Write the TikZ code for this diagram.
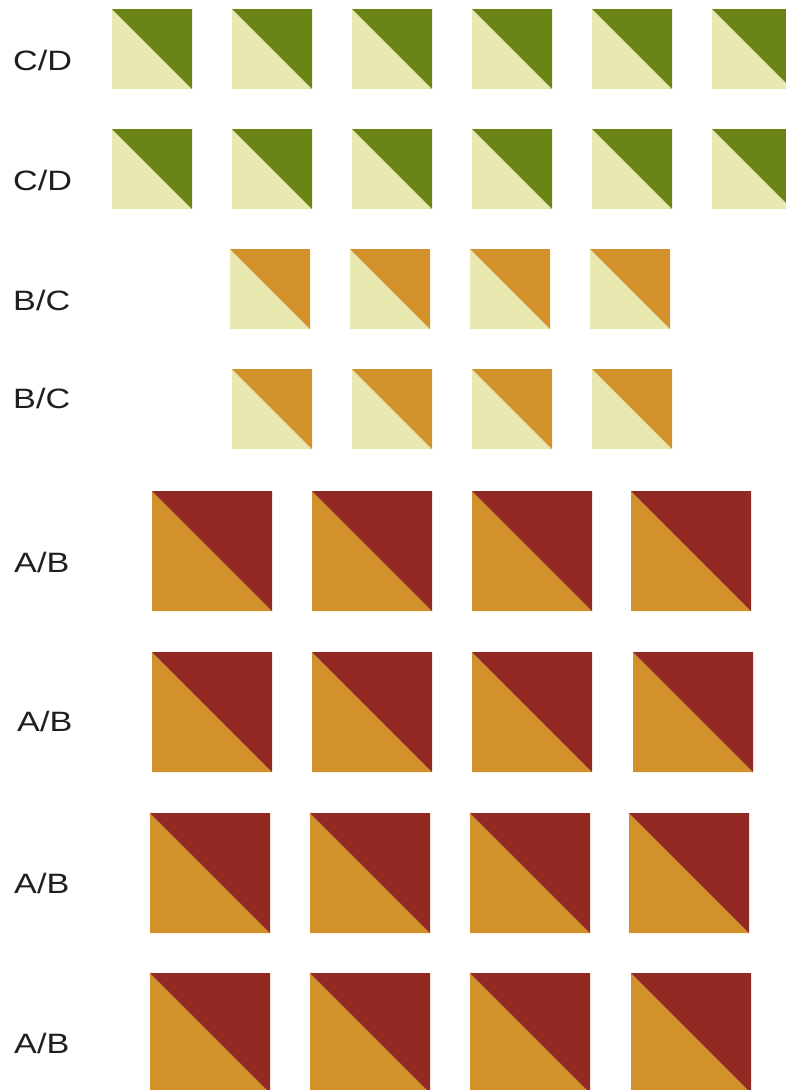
\documentclass[tikz,border=0pt]{standalone}
\usepackage{fontspec}
\setmainfont{Liberation Sans}
\definecolor{cream}{HTML}{E9E8B1}
\definecolor{olive}{HTML}{6A8516}
\definecolor{ochre}{HTML}{D3912B}
\definecolor{brick}{HTML}{922923}
\newcommand\hstsq[5]{%
  \fill[#4] (#1,#2) -- (#1,#2+#3) -- (#1+#3,#2+#3) -- cycle;
  \fill[#5] (#1,#2) -- (#1+#3,#2) -- (#1+#3,#2+#3) -- cycle;}
\begin{document}
\begin{tikzpicture}[x=1pt,y=-1pt,
  lbl/.style={anchor=base west, font=\fontsize{28}{28}\selectfont, xscale=1.22, text=black!88, inner sep=0pt}]
\useasboundingbox[fill=white] (0,0) rectangle (786,1090);
% C/D rows
\foreach \x in {112,232,352,472,592,712} {\hstsq{\x}{9}{80}{cream}{olive}}
\foreach \x in {112,232,352,472,592,712} {\hstsq{\x}{129}{80}{cream}{olive}}
% B/C rows
\foreach \x in {230,350,470,590} {\hstsq{\x}{249}{80}{cream}{ochre}}
\foreach \x in {232,352,472,592} {\hstsq{\x}{369}{80}{cream}{ochre}}
% A/B rows
\foreach \x in {152,312,472,631} {\hstsq{\x}{491}{120}{ochre}{brick}}
\foreach \x in {152,312,472,633} {\hstsq{\x}{652}{120}{ochre}{brick}}
\foreach \x in {150,310,470,629} {\hstsq{\x}{813}{120}{ochre}{brick}}
\foreach \x in {150,310,470,631} {\hstsq{\x}{973}{120}{ochre}{brick}}
% labels
\node[lbl] (l1) at (13,70) {C/D};
\node[lbl] (l2) at (13,190) {C/D};
\node[lbl] (l3) at (13,310) {B/C};
\node[lbl] (l4) at (13,408) {B/C};
\node[lbl] (l5) at (14,572) {A/B};
\node[lbl] (l6) at (17,731) {A/B};
\node[lbl] (l7) at (14,893) {A/B};
\node[lbl] (l8) at (14,1053) {A/B};
\end{tikzpicture}
\end{document}
